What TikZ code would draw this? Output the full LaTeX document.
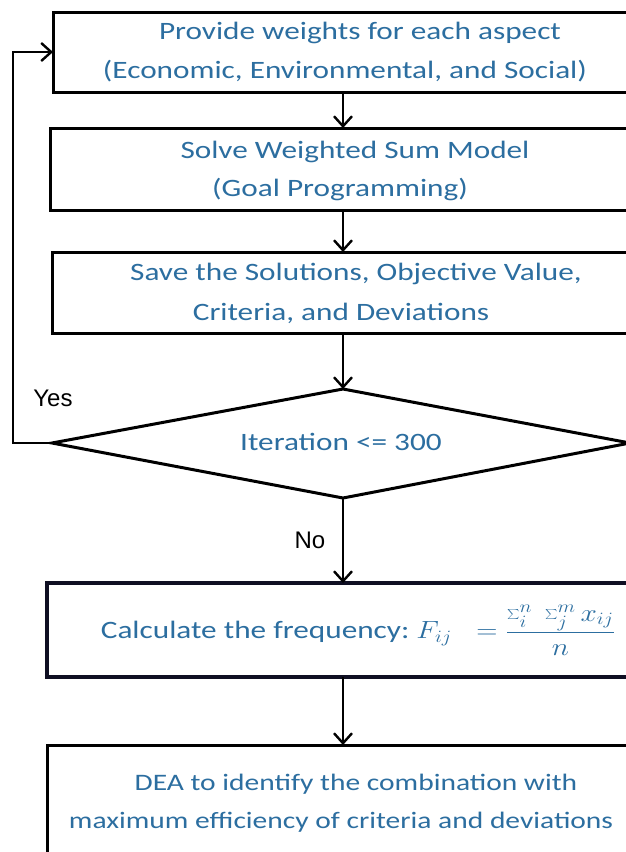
\documentclass[tikz,border=0pt]{standalone}
\usepackage{fontspec}
\usepackage{graphicx}
\setmainfont{Carlito}[FakeStretch=1.25]
\newfontfamily\arialfont{Liberation Sans}
\usetikzlibrary{arrows.meta}
\definecolor{txtblue}{RGB}{44,110,160}
\tikzset{
  boxline/.style={draw=black, line width=3pt},
  flowarrow/.style={draw=black, line width=2.4pt, -{Straight Barb[length=10pt,width=18pt,line width=2.4pt]}},
  txt/.style={text=txtblue, font=\fontsize{25}{30}\selectfont, inner sep=0pt},
  lbl/.style={text=black, font=\arialfont\fontsize{24}{28}\selectfont, inner sep=0pt}
}
\begin{document}
\begin{tikzpicture}[x=1pt,y=-1pt]
\useasboundingbox (0,0) rectangle (626,852);
\clip (0,0) rectangle (626,852);
\fill[white] (0,0) rectangle (626,852);
% boxes
\draw[boxline] (53,12) rectangle (660,92);
\draw[boxline] (50,128) rectangle (660,210);
\draw[boxline] (52,252) rectangle (660,333);
\draw[boxline] (343,389) -- (52,443) -- (343,498) -- (630,443) -- cycle;
\draw[draw={rgb,255:red,15;green,15;blue,35}, line width=3.8pt] (47,583) rectangle (660,677);
\draw[boxline] (47,745) rectangle (660,880);
% named anchors
\coordinate (b1b) at (343,92);
\coordinate (b1l) at (53,52);
\coordinate (b2t) at (343,128);
\coordinate (b2b) at (343,210);
\coordinate (b3t) at (343,252);
\coordinate (b3b) at (343,333);
\coordinate (dt) at (343,389);
\coordinate (db) at (343,498);
\coordinate (dl) at (52,443);
\coordinate (b4t) at (343,583);
\coordinate (b4b) at (343,677);
\coordinate (b5t) at (343,745);
% texts
\node[txt] (t1a) at (360,33) {Provide weights for each aspect};
\node[txt] (t1b) at (345,71) {(Economic, Environmental, and Social)};
\node[txt] (t2a) at (355,152) {Solve Weighted Sum Model};
\node[txt] (t2b) at (340,190) {(Goal Programming)};
\node[txt] (t3a) at (356,274) {Save the Solutions, Objective Value,};
\node[txt] (t3b) at (341,313) {Criteria, and Deviations};
\node[txt] (t4) at (341,442) {Iteration <= 300};
\node[txt] (t5) at (358,630) {Calculate the frequency:\;\scalebox{1.18}[1]{$F_{ij}\ \;=\displaystyle\frac{\sum_i^n\;\sum_j^m x_{ij}}{n}$}};
\node[txt, font=\fontsize{23.6}{28}\selectfont] (t6a) at (356,784) {DEA to identify the combination with};
\node[txt, font=\fontsize{23.6}{28}\selectfont] (t6b) at (341,822) {maximum efficiency of criteria and deviations};
\node[lbl] (yes) at (53,398) {Yes};
\node[lbl] (no) at (310,540) {No};
% connectors
\draw[flowarrow] (b1b) -- (b2t);
\draw[flowarrow] (b2b) -- (b3t);
\draw[flowarrow] (b3b) -- (dt);
\draw[flowarrow] (db) -- (b4t);
\draw[flowarrow] (b4b) -- (b5t);
\draw[flowarrow] (dl) -- (13,443) -- (13,52) -- (b1l);
\end{tikzpicture}
\end{document}
